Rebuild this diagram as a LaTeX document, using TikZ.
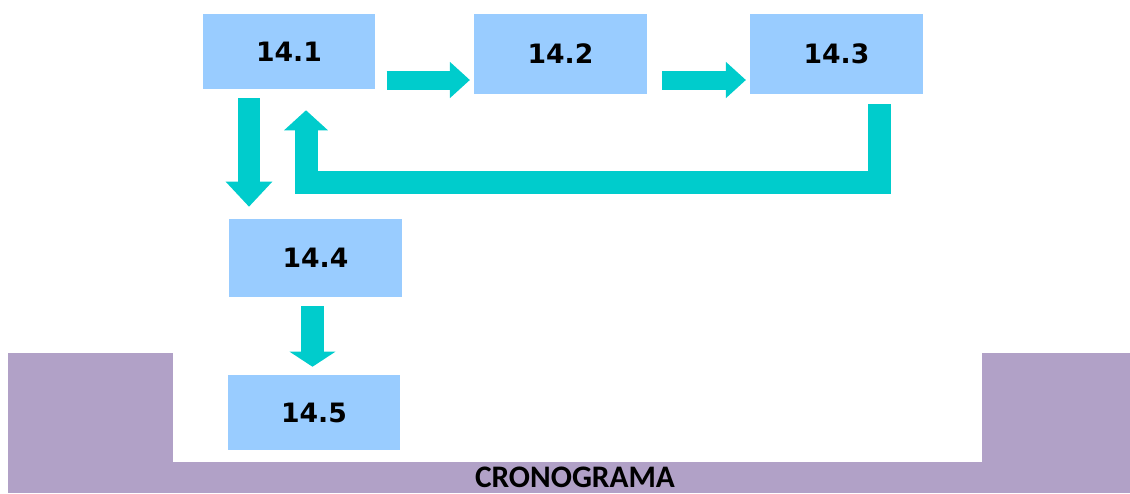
\documentclass[tikz,border=0pt]{standalone}
\usepackage{fontspec}
\setmainfont{DejaVu Sans}
\newfontfamily\calibri{Carlito}
\usetikzlibrary{arrows.meta,calc}
\definecolor{cajaazul}{HTML}{99CCFF}
\definecolor{turquesa}{HTML}{00CCCC}
\definecolor{lila}{HTML}{B1A1C7}
\tikzset{x=0.75pt,y=0.75pt}

\begin{document}
\begin{tikzpicture}[caja/.style={fill=cajaazul,minimum width=129.5pt,minimum height=#1,inner sep=0pt,font=\fontsize{20}{20}\selectfont\bfseries},
    flecha/.style n args={3}{draw=turquesa,line width=#1,line join=miter,-{Triangle[length=#2,width=#3]}}]
    \useasboundingbox (0,0) rectangle (1130,-493);
    % marco lila
    \fill[lila] (8,-353) rectangle (1130,-493);
    \fill[white] (173,-353) rectangle (982,-462);
    \node[font=\calibri\fontsize{23.5}{23.5}\selectfont\bfseries] (titulo) at (575,-477) {CRONOGRAMA};
    % cajas
    \node[caja=56.25pt] (n141) at (289,-51.5) {14.1};
    \node[caja=60pt] (n142) at (560.5,-54) {14.2};
    \node[caja=60pt] (n143) at (836.5,-54) {14.3};
    \node[caja=58.5pt] (n144) at (315.5,-258) {14.4};
    \node[caja=56.25pt] (n145) at (314,-412.5) {14.5};
    % flechas
    \draw[flecha={14.25pt}{15pt}{26.25pt}] ($(n141.east)+(11,-28.5)$) -- ($(n142.west)+(-4,-26)$);
    \draw[flecha={14.25pt}{15pt}{26.25pt}] ($(n142.east)+(15,-26)$) -- ($(n143.west)+(-4,-26)$);
    \draw[flecha={16.5pt}{18.75pt}{33.75pt}] ($(n141.south)+(-40,-9)$) -- ($(n144.north)+(-66.5,12)$);
    \draw[flecha={17.25pt}{15pt}{32pt}] ($(n143.south)+(43,-10)$) |- ($(n141.south)+(17,-93)$) -- ($(n141.south)+(17,-21)$);
    \draw[flecha={17.25pt}{11.25pt}{33.75pt}] ($(n144.south)+(-3,-9)$) -- ($(n145.north)+(-1.5,8)$);
\end{tikzpicture}
\end{document}
